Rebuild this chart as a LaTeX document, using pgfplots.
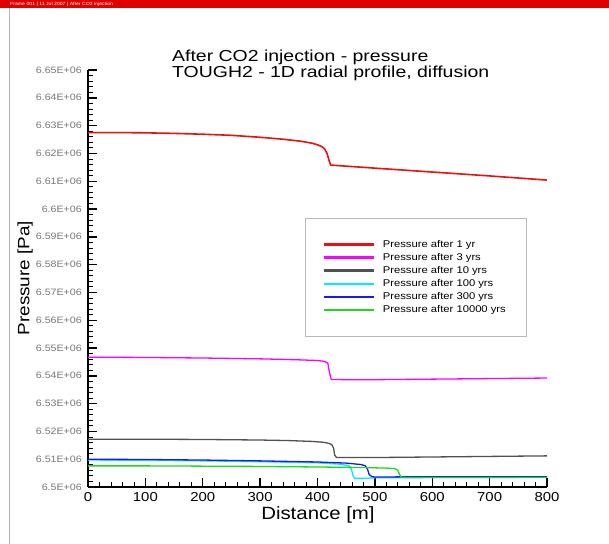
\documentclass[border=0pt]{standalone}
\usepackage{fontspec}
\setmainfont{Liberation Sans}[FakeStretch=1.15]
\newfontfamily\titlefont{Liberation Sans}[FakeStretch=1.22]
\usepackage{pgfplots}
\pgfplotsset{compat=1.18}
\definecolor{barRed}{RGB}{225,0,0}
\definecolor{lineRed}{RGB}{232,16,16}
\definecolor{lineMag}{RGB}{255,0,255}
\definecolor{lineGray}{RGB}{80,80,80}
\definecolor{lineCyan}{RGB}{0,235,255}
\definecolor{lineBlue}{RGB}{25,25,235}
\definecolor{lineGreen}{RGB}{30,215,30}
\definecolor{tickGray}{RGB}{120,120,120}
\pgfplotsset{
  legend image code/.code={\draw[#1, line width=2.2bp] (0bp,0bp) -- (50bp,0bp);},
}
\begin{document}
\begin{tikzpicture}
\useasboundingbox (0bp,0bp) rectangle (609bp,-544bp);
\fill[white] (0bp,0bp) rectangle (609bp,-544bp);
\fill[barRed] (0bp,0bp) rectangle (609bp,-8bp);
\node[anchor=west, text=white, font=\fontsize{4.5}{5}\selectfont, inner sep=0pt] at (10bp,-4bp) {Frame 001 | 11 Jul 2007 | After CO2 injection};
\draw[gray!60, line width=0.8bp] (9bp,-8bp) -- (9bp,-544bp);
\node[anchor=base west, inner sep=0pt, font=\titlefont\fontsize{16}{14}\selectfont] at (172bp,-61.5bp) {After CO2 injection - pressure};
\node[anchor=base west, inner sep=0pt, font=\titlefont\fontsize{16}{14}\selectfont] at (172bp,-77bp) {TOUGH2 - 1D radial profile, diffusion};
\begin{axis}[
  at={(88bp,-487bp)}, anchor=south west, scale only axis,
  width=459bp, height=417bp,
  xmin=0, xmax=800, ymin=6500000, ymax=6650000,
  axis lines=left, axis line style={-, line width=1.6bp, black},
  xtick={0,100,200,300,400,500,600,700,800},
  xticklabels={0,100,200,300,400,500,600,700,800},
  ytick={6500000,6510000,6520000,6530000,6540000,6550000,6560000,6570000,6580000,6590000,6600000,6610000,6620000,6630000,6640000,6650000},
  yticklabels={6.5E+06,6.51E+06,6.52E+06,6.53E+06,6.54E+06,6.55E+06,6.56E+06,6.57E+06,6.58E+06,6.59E+06,6.6E+06,6.61E+06,6.62E+06,6.63E+06,6.64E+06,6.65E+06},
  scaled y ticks=false, scaled x ticks=false,
  minor x tick num=4, minor y tick num=4,
  tick align=inside,
  major tick length=9bp, minor tick length=5bp,
  major tick style={line width=1.4bp, black},
  minor tick style={line width=0.8bp, black},
  xticklabel style={font=\fontsize{13}{13}\selectfont, inner sep=0pt, anchor=north, yshift=-5bp},
  yticklabel style={font=\fontsize{9.3}{10}\selectfont, text=tickGray, inner sep=0pt, anchor=east, xshift=-6bp},
  xlabel={Distance [m]}, ylabel={Pressure [Pa]},
  every axis x label/.style={at={(axis description cs:0.501,-0.067)}, anchor=center, font=\fontsize{17.8}{18}\selectfont},
  every axis y label/.style={at={(axis description cs:-0.137,0.501)}, anchor=center, rotate=90, font=\fontsize{16.5}{17}\selectfont},
  legend style={at={(axis description cs:0.4728,0.645)}, anchor=north west, draw=gray!55, fill=white,
    inner xsep=18bp, inner ysep=20bp, font=\fontsize{9.8}{11}\selectfont, row sep=0.5bp, column sep=5.5bp,
    cells={anchor=west}},
]
\addplot[color=lineRed, line width=1.6bp] coordinates {
(0,6627500) (50,6627500) (100,6627400) (150,6627200) (200,6626900) (250,6626500)
(300,6625800) (340,6625100) (370,6624400) (390,6623700) (400,6623100) (408,6622400)
(413,6621400) (417,6619800) (420,6617500) (423,6615800) (430,6615700) (500,6614700)
(600,6613300) (700,6611900) (800,6610400)};
\addlegendentry{Pressure after 1 yr}
\addplot[color=lineMag, line width=1.3bp] coordinates {
(0,6546700) (100,6546600) (200,6546400) (300,6546100) (360,6545800) (400,6545500)
(412,6545200) (418,6544500) (421,6541000) (424,6538700) (450,6538600) (500,6538600)
(600,6538800) (700,6539000) (800,6539200)};
\addlegendentry{Pressure after 3 yrs}
\addplot[color=lineGray, line width=1.3bp] coordinates {
(0,6517200) (100,6517200) (200,6517100) (300,6516900) (350,6516700) (390,6516400)
(410,6516100) (420,6515700) (425,6515200) (428,6514000) (430,6511500) (433,6510600)
(500,6510600) (600,6510800) (700,6511000) (800,6511200)};
\addlegendentry{Pressure after 10 yrs}
\addplot[color=lineCyan, line width=1.3bp] coordinates {
(0,6509700) (100,6509600) (200,6509400) (300,6509100) (400,6508700) (440,6508200)
(455,6507600) (459,6506500) (462,6504000) (465,6503100) (480,6503100) (500,6503300)
(600,6503400) (800,6503500)};
\addlegendentry{Pressure after 100 yrs}
\addplot[color=lineBlue, line width=1.3bp] coordinates {
(0,6510000) (100,6509900) (200,6509700) (300,6509400) (400,6509000) (450,6508600)
(475,6508100) (483,6507700) (487,6506500) (490,6504500) (495,6503700) (500,6503600)
(600,6503700) (800,6503700)};
\addlegendentry{Pressure after 300 yrs}
\addplot[color=lineGreen, line width=1.3bp] coordinates {
(0,6507600) (100,6507600) (200,6507500) (300,6507400) (400,6507200) (480,6507000)
(520,6506800) (535,6506600) (540,6506000) (543,6504500) (546,6503500) (560,6503400)
(800,6503400)};
\addlegendentry{Pressure after 10000 yrs}
\end{axis}
\end{tikzpicture}
\end{document}
